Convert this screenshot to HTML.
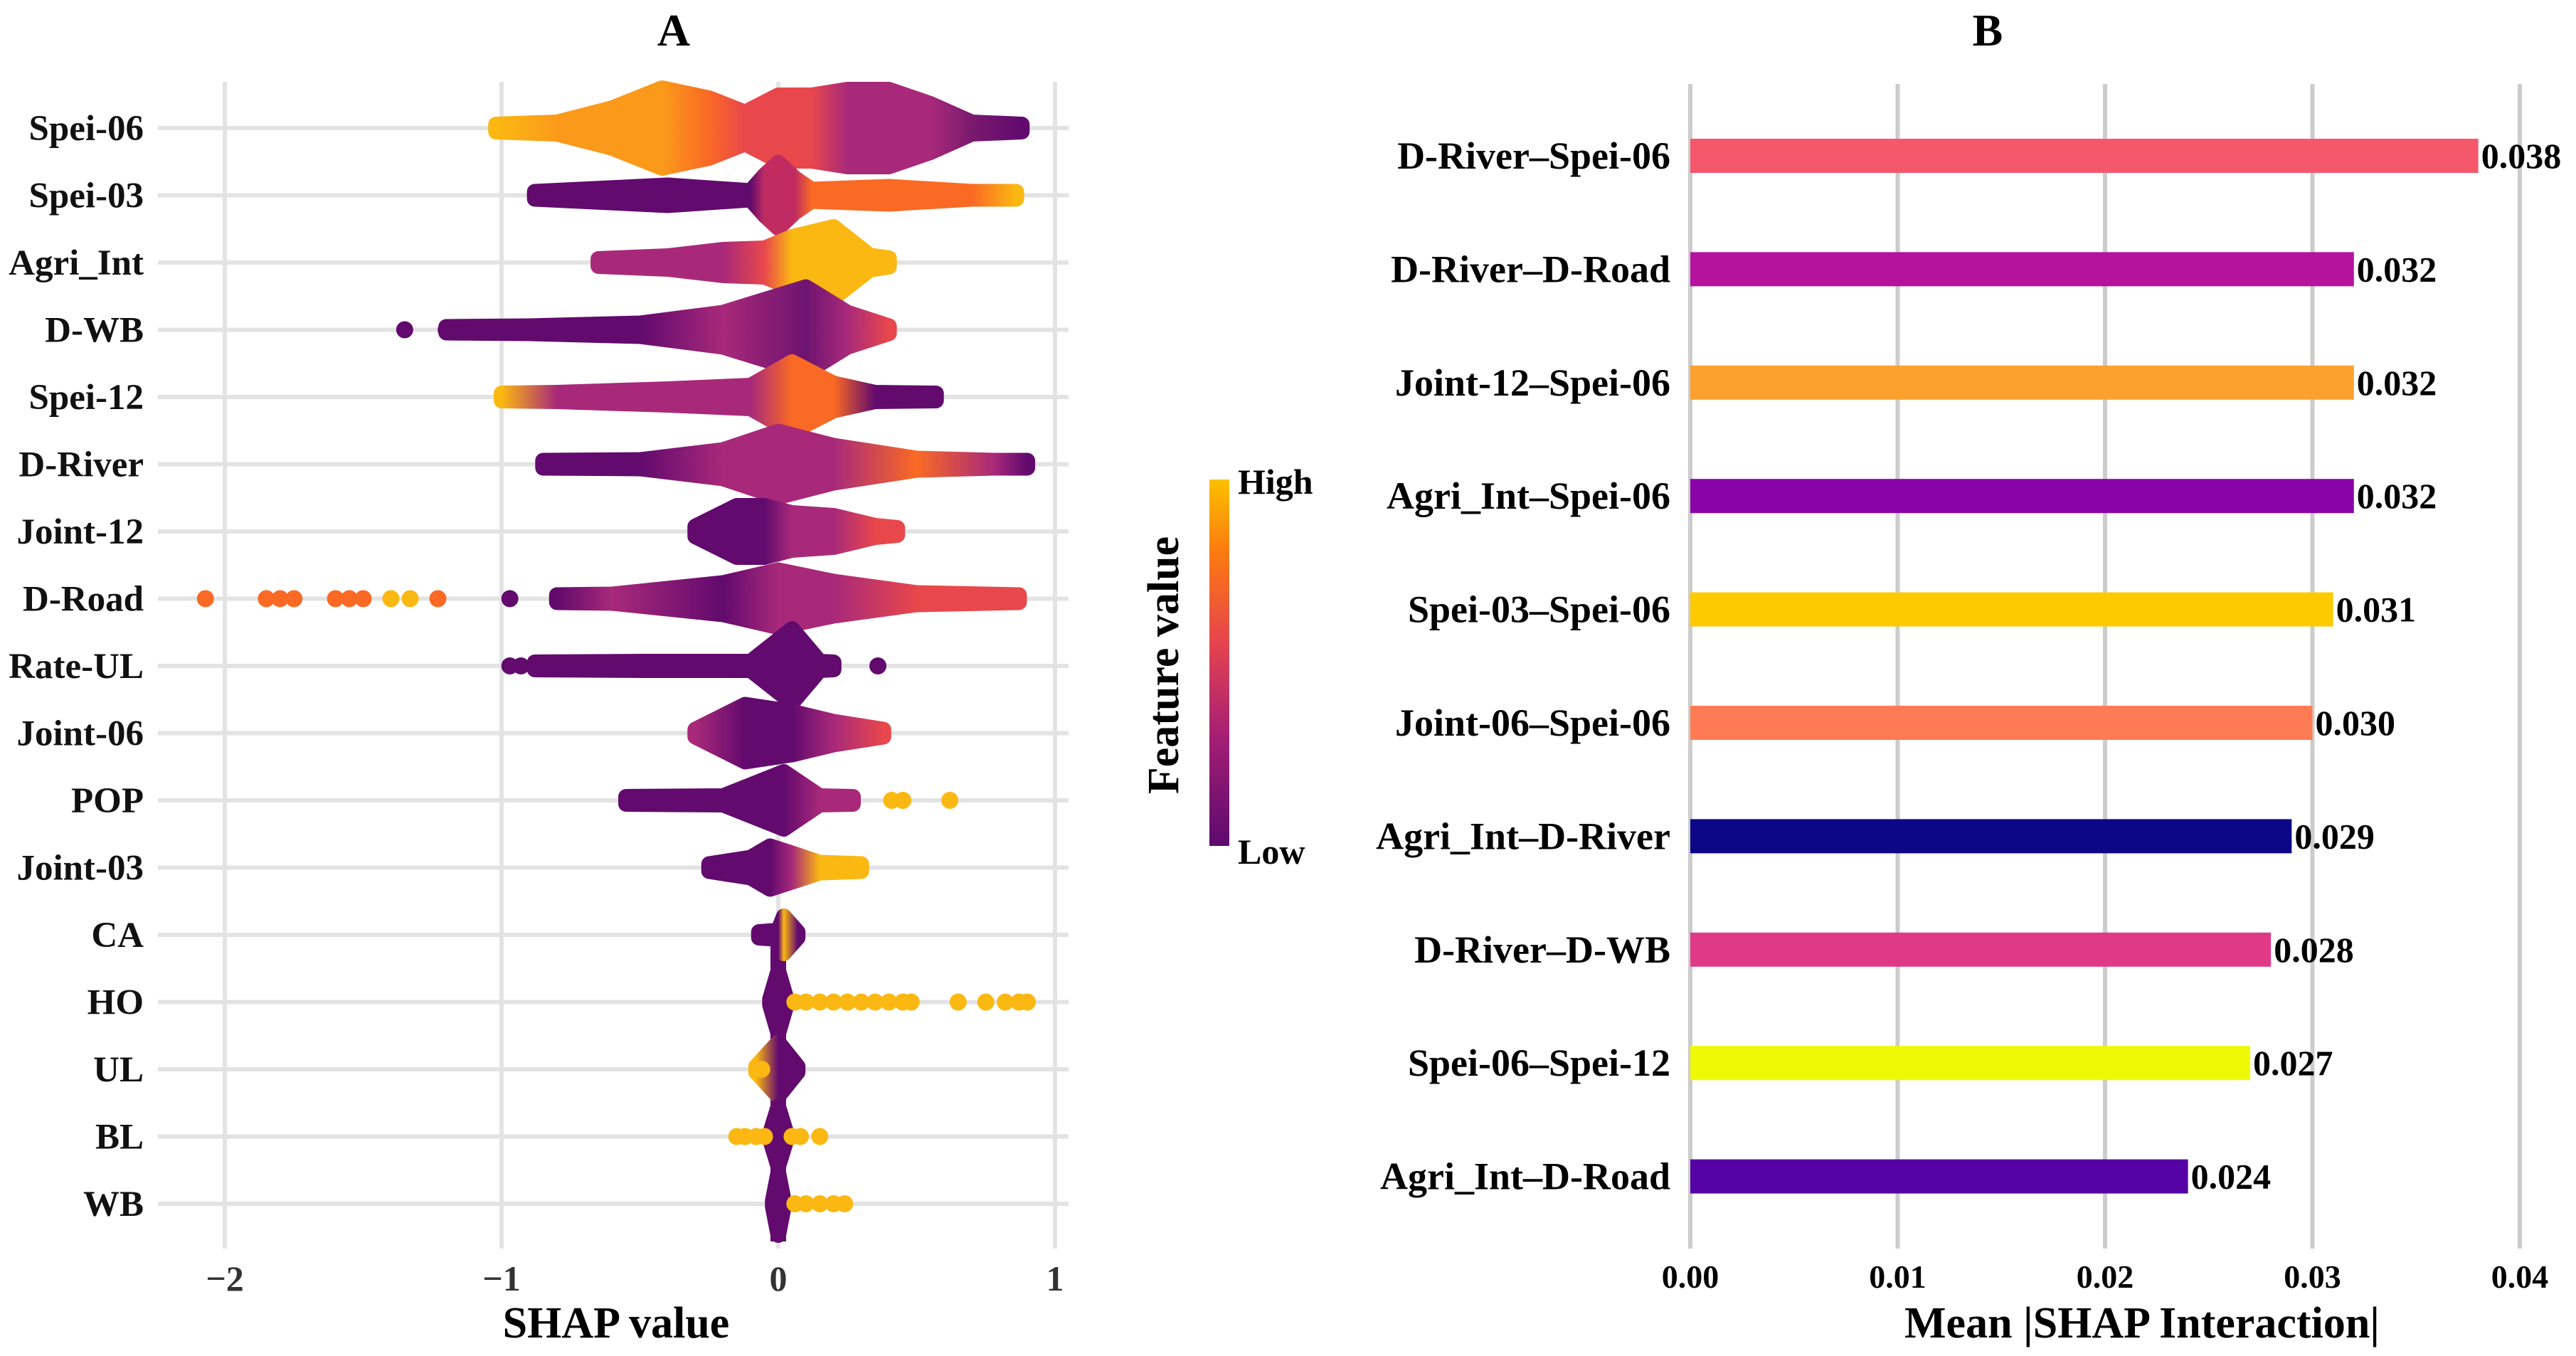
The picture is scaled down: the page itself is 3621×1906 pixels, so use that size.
<!DOCTYPE html>
<html><head><meta charset="utf-8"><style>
html,body{margin:0;padding:0;background:#fff;}
svg{display:block;}
svg text{font-family:"Liberation Serif","DejaVu Serif",serif;font-weight:bold;}
</style></head><body>
<svg id="fig" width="3621" height="1906" viewBox="0 0 3621 1906" xmlns="http://www.w3.org/2000/svg" font-family="Liberation Serif, serif" font-weight="bold">
<defs>
<linearGradient id="cbar" x1="0" y1="1" x2="0" y2="0">
<stop offset="0" stop-color="#5c0a6e"/><stop offset="0.3" stop-color="#a51f74"/><stop offset="0.55" stop-color="#e5434f"/><stop offset="0.8" stop-color="#fb7a10"/><stop offset="1" stop-color="#fcc000"/>
</linearGradient>
</defs>
<g id="panelA"></g>
<g id="panelB"></g>
<g id="legend">
<rect x="1700" y="674" width="28" height="515" fill="url(#cbar)"/>
<text x="1740" y="694" font-size="50">High</text>
<text x="1740" y="1214" font-size="50">Low</text>
<text transform="translate(1656,935) rotate(-90)" text-anchor="middle" font-size="62">Feature value</text>
</g>
</svg>
<script>
const NS="http://www.w3.org/2000/svg";
// ---------- Panel A data ----------
const featuresA=["Spei-06","Spei-03","Agri_Int","D-WB","Spei-12","D-River","Joint-12","D-Road","Rate-UL","Joint-06","POP","Joint-03","CA","HO","UL","BL","WB"];
const ticksA=[-2,-1,0,1];
const D="#620a6e",M="#a8297a",R="#e8474c",O="#fa6a24",Y="#fbb812",OY="#fb9a1a";
// profiles: [shap value, half-width(px), colour]
const profSpei06=[[-1.02,5,Y],[-0.8,8,OY],[-0.6,28,OY],[-0.42,56,OY],[-0.25,42,O],[-0.12,22,R],[0,46,R],[0.12,46,R],[0.25,54,M],[0.4,54,M],[0.55,34,M],[0.7,8,"#7a1a6e"],[0.88,5,D]];
const profSpei03=[[-0.88,5,D],[-0.4,14,D],[-0.1,6,D],[-0.05,28,"#c02c62"],[0,46,"#c02c62"],[0.06,24,"#c02c62"],[0.12,8,O],[0.4,12,O],[0.7,5,O],[0.86,5,Y]];
const profAgri=[[-0.65,5,M],[-0.4,9,M],[-0.2,18,M],[-0.05,20,R],[0.05,36,Y],[0.2,50,Y],[0.33,10,Y],[0.4,6,Y]];
const profDWB=[[-1.2,4,D],[-0.9,5,D],[-0.5,9,D],[-0.2,24,M],[0.1,60,"#6e1470"],[0.25,24,M],[0.4,5,R]];
const profSpei12=[[-1.0,5,Y],[-0.8,6,M],[-0.4,11,M],[-0.1,16,M],[0.05,49,O],[0.2,19,O],[0.35,6,D],[0.57,5,D]];
const profDRiver=[[-0.85,5,D],[-0.5,6,D],[-0.2,20,M],[0,46,M],[0.2,26,M],[0.5,8,O],[0.78,5,M],[0.9,5,D]];
const profJoint12=[[-0.3,7,D],[-0.15,36,D],[-0.05,36,D],[0.05,26,M],[0.2,22,M],[0.35,8,R],[0.43,5,R]];
const profDRoad=[[-0.8,5,D],[-0.6,6,M],[-0.2,22,D],[0,40,M],[0.2,24,M],[0.5,8,R],[0.87,5,R]];
const profRateUL=[[-0.88,5,D],[-0.5,6,D],[-0.1,6,D],[0.05,52,D],[0.15,6,D],[0.2,5,D]];
const profJoint06=[[-0.3,5,M],[-0.12,40,D],[0.05,30,D],[0.2,16,M],[0.38,5,R]];
const profPOP=[[-0.55,5,D],[-0.2,6,D],[0.02,40,D],[0.15,6,M],[0.27,5,M]];
const profJoint03=[[-0.25,5,D],[-0.1,14,D],[-0.03,30,D],[0.05,20,M],[0.15,7,Y],[0.3,5,Y]];
const profCA=[[-0.07,4,D],[0,6,D],[0.02,26,Y],[0.07,4,D]];
const profHO=[[-0.03,4,D],[0,44,D],[0.03,4,D]];
const profUL=[[-0.08,4,Y],[0,38,D],[0.07,4,D]];
const profBL=[[-0.03,4,D],[0,42,D],[0.03,4,D]];
const profWB=[[-0.02,4,D],[0,44,D],[0.02,4,D]];
const profiles=[profSpei06,profSpei03,profAgri,profDWB,profSpei12,profDRiver,profJoint12,profDRoad,profRateUL,profJoint06,profPOP,profJoint03,profCA,profHO,profUL,profBL,profWB];
// outlier points: [row index, shap value, colour]
const outliers=[[3,-1.35,D],[3,-1.2,D],[3,-1.1,D],[7,-2.07,O],[7,-1.85,O],[7,-1.8,O],[7,-1.75,O],[7,-1.6,O],[7,-1.55,O],[7,-1.5,O],[7,-1.4,Y],[7,-1.33,Y],[7,-1.23,O],[7,-0.97,D],[8,-0.97,D],[8,-0.93,D],[8,0.36,D],[10,0.41,Y],[10,0.45,Y],[10,0.62,Y],[13,0.06,Y],[13,0.1,Y],[13,0.15,Y],[13,0.2,Y],[13,0.25,Y],[13,0.3,Y],[13,0.35,Y],[13,0.4,Y],[13,0.45,Y],[13,0.48,Y],[13,0.65,Y],[13,0.75,Y],[13,0.82,Y],[13,0.87,Y],[13,0.9,Y],[15,-0.15,Y],[15,-0.12,Y],[15,-0.08,Y],[15,-0.05,Y],[15,0.05,Y],[15,0.08,Y],[15,0.15,Y],[16,0.06,Y],[16,0.1,Y],[16,0.15,Y],[16,0.2,Y],[16,0.24,Y],[14,-0.06,Y],[14,0.05,D],[12,-0.05,D]];
// ---------- Panel B data ----------
const pairsB=["D-River–Spei-06","D-River–D-Road","Joint-12–Spei-06","Agri_Int–Spei-06","Spei-03–Spei-06","Joint-06–Spei-06","Agri_Int–D-River","D-River–D-WB","Spei-06–Spei-12","Agri_Int–D-Road"];
const valuesB=[0.038,0.032,0.032,0.032,0.031,0.030,0.029,0.028,0.027,0.024];
const colorsB=["#f5576b","#b5139d","#fca12e","#8804a8","#fdca00","#ff7b53","#0c0786","#de3a88","#eefa05","#5402a3"];
const ticksB=[0.00,0.01,0.02,0.03,0.04];

function el(t,a,p){const e=document.createElementNS(NS,t);for(const k in a)e.setAttribute(k,a[k]);p.appendChild(e);return e;}
// ---- Panel A ----
const A=document.getElementById('panelA');
const xA=v=>1094+v*389;
const yA=i=>180+i*94.5;
ticksA.forEach(t=>{
 const l=el('line',{x1:xA(t),x2:xA(t),y1:115,y2:1755,stroke:'#e3e3e3','stroke-width':6},A);
 
 
 const tx=el('text',{x:xA(t),y:1814,'text-anchor':'middle','font-size':50,fill:'#333'},A);
 tx.textContent=t<0?'−'+Math.abs(t):String(t);
 
 
});
featuresA.forEach((f,i)=>{
 const l=el('line',{x1:222,x2:1502,y1:yA(i),y2:yA(i),stroke:'#e3e3e3','stroke-width':6},A);
 
 
 const tx=el('text',{x:202,y:yA(i)+17,'text-anchor':'end','font-size':51,fill:'#111'},A);
 tx.textContent=f;
 
 
});
const spine=el('line',{x1:xA(0),x2:xA(0),y1:yA(12),y2:1745,stroke:D,'stroke-width':22},A);


const defs=document.querySelector('defs');
profiles.forEach((p,i)=>{
 const y=yA(i);
 const x0=xA(p[0][0]),x1=xA(p[p.length-1][0]);
 const g=el('linearGradient',{id:'g'+i,gradientUnits:'userSpaceOnUse',x1:x0,x2:x1,y1:0,y2:0},defs);
 p.forEach(q=>{el('stop',{offset:((xA(q[0])-x0)/(x1-x0||1)).toFixed(4),'stop-color':q[2]},g);});
 let d='M'+xA(p[0][0])+','+(y-p[0][1]);
 p.forEach(q=>{d+=' L'+xA(q[0])+','+(y-q[1]);});
 for(let k=p.length-1;k>=0;k--){d+=' L'+xA(p[k][0])+','+(y+p[k][1]);}
 d+='Z';
 const s=el('path',{d:d,fill:'url(#g'+i+')',stroke:'url(#g'+i+')','stroke-width':22,'stroke-linejoin':'round'},A);
 
 
});
outliers.forEach(o=>{
 const c=el('circle',{cx:xA(o[1]),cy:yA(o[0]),r:12,fill:o[2]},A);
 
 
});
const tA=el('text',{x:947,y:64,'text-anchor':'middle','font-size':64},A);
tA.textContent='A';


const xtA=el('text',{x:866,y:1880,'text-anchor':'middle','font-size':62},A);
xtA.textContent='SHAP value';


// ---- Panel B ----
const B=document.getElementById('panelB');
const xB=v=>2376+v*29150;
const yB=i=>219+i*159.4;
ticksB.forEach(t=>{
 const l=el('line',{x1:xB(t),x2:xB(t),y1:118,y2:1755,stroke:'#cccccc','stroke-width':6},B);
 
 
 const tx=el('text',{x:xB(t),y:1810,'text-anchor':'middle','font-size':46},B);
 tx.textContent=t.toFixed(2);
 
 
});
pairsB.forEach((p,i)=>{
 const r=el('rect',{x:xB(0),y:yB(i)-24,width:xB(valuesB[i])-xB(0),height:48,fill:colorsB[i]},B);
 
 
 const lb=el('text',{x:2348,y:yB(i)+18,'text-anchor':'end','font-size':54},B);
 lb.textContent=p;
 
 
 const v=el('text',{x:xB(valuesB[i])+4,y:yB(i)+17,'font-size':50},B);
 v.textContent=valuesB[i].toFixed(3);
 
 
});
const tB=el('text',{x:2794,y:64,'text-anchor':'middle','font-size':64},B);
tB.textContent='B';


const xtB=el('text',{x:3011,y:1880,'text-anchor':'middle','font-size':62},B);
xtB.textContent='Mean |SHAP Interaction|';


</script>
</body></html>
